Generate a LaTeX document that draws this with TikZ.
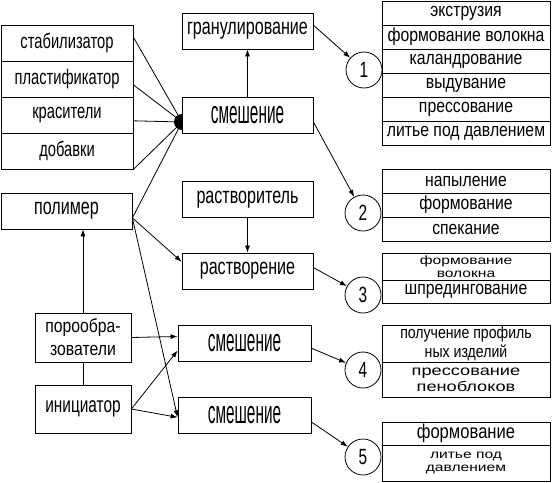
\documentclass[tikz,border=0pt]{standalone}
\usepackage{fontspec}
\setmainfont{Liberation Sans}
\newfontfamily\boxfnt[FakeStretch=0.7]{Liberation Sans}
\newfontfamily\mixfnt[FakeStretch=0.48]{Liberation Sans}
\newfontfamily\rowfnt[FakeStretch=0.83]{Liberation Sans}
\newfontfamily\widefnt[FakeStretch=1.3]{Liberation Sans}
\usetikzlibrary{arrows.meta}

\begin{document}
\begin{tikzpicture}[>={Latex[length=7pt,width=5pt]}, x=1pt, y=-1pt, line width=0.8pt,
  box/.style={draw, rectangle, inner sep=0pt, minimum width=131pt, minimum height=36pt,
    font=\boxfnt\fontsize{23}{24}\selectfont},
  mixbox/.style={box, minimum width=133pt, font=\mixfnt\fontsize{32}{32}\selectfont},
  lrow/.style={draw, rectangle, inner sep=0pt, minimum width=132pt, minimum height=36pt,
    font=\boxfnt\fontsize{21}{22}\selectfont},
  srow/.style={draw, rectangle, inner sep=0pt, minimum width=168pt, minimum height=24pt,
    align=center, font=\rowfnt\fontsize{19}{20}\selectfont},
  wrow/.style={srow, font=\widefnt\fontsize{13}{14}\selectfont},
  num/.style={circle, draw, inner sep=0pt, minimum size=36pt,
    font=\boxfnt\fontsize{22}{22}\selectfont}]

  \useasboundingbox (0,0) rectangle (553,482);

  % left stack
  \node[lrow] (stab)   at (67,43)  {стабилизатор};
  \node[lrow] (plast)  at (67,79)  {пластификатор};
  \node[lrow] (krasit) at (67,115) {красители};
  \node[lrow] (dobav)  at (67,151) {добавки};

  % middle column
  \node[box] (granul) at (247.5,31) {гранулирование};
  \node[mixbox, minimum width=131pt] (smesh) at (247.5,115) {смешение};
  \node[box] (rastv)  at (247.5,199.5) {растворитель};
  \node[box] (rastvr) at (247.5,271) {растворение};
  \node[mixbox] (smeshB) at (244.5,343.5) {смешение};
  \node[mixbox] (smeshC) at (244.5,415) {смешение};

  % lower left
  \node[box, minimum width=131pt] (polimer) at (66.5,211) {полимер};
  \node[box, minimum width=96pt, minimum height=49pt, align=center,
    font=\rowfnt\fontsize{19}{23}\selectfont] (poroobr) at (83,337.5) {порообра-\\зователи};
  \node[box, minimum width=96pt, minimum height=48pt,
    font=\boxfnt\fontsize{22}{22}\selectfont] (iniciator) at (83,409) {инициатор};

  % numbered circles
  \node[num] (num1) at (364,70)  {1};
  \node[num] (num2) at (363,213) {2};
  \node[num] (num3) at (363,295) {3};
  \node[num] (num4) at (363,370) {4};
  \node[num] (num5) at (363,457) {5};

  % right stacks
  \node[srow] (ekstr)   at (466,13)  {экструзия};
  \node[srow] (formvol) at (466,37)  {формование волокна};
  \node[srow] (kaland)  at (466,61)  {каландрование};
  \node[srow] (vydu)    at (466,85)  {выдувание};
  \node[srow] (press)   at (466,109) {прессование};
  \node[srow] (litje)   at (466,133) {литье под давлением};

  \node[srow] (napyl)  at (466,181) {напыление};
  \node[srow] (formov) at (466,205) {формование};
  \node[srow] (spek)   at (466,229) {спекание};

  \node[wrow, minimum height=27pt, font=\widefnt\fontsize{12}{13}\selectfont] (volokno) at (466,266.5) {формование\\волокна};
  \node[srow, minimum height=23pt, font=\rowfnt\fontsize{19}{19}\selectfont] (shpred) at (466,291.5) {шпредингование};

  \node[srow, minimum height=37pt, font=\rowfnt\fontsize{17}{19}\selectfont] (profil) at (466,343.5) {получение профиль\\ных изделий};
  \node[wrow, minimum height=35pt, font=\widefnt\fontsize{14}{16}\selectfont] (penobl) at (466,379.5) {прессование\\пеноблоков};

  \node[srow, minimum height=23pt, font=\rowfnt\fontsize{20}{20}\selectfont] (formovB) at (466,433.5) {формование};
  \node[wrow, minimum height=36pt, font=\widefnt\fontsize{12}{13}\selectfont] (litjeB) at (466,463) {литье под\\давлением};

  % junction dot
  \coordinate (jn) at (182,122);
  \fill (jn) ++(0,-8) arc[start angle=90, end angle=270, radius=8pt] -- cycle;

  \draw (stab.5) -- (jn);
  \draw (plast.-5) -- (jn);
  \draw (krasit.-5) -- (jn);
  \draw (dobav.south east) -- (jn);
  \draw (polimer.-6) -- (jn);

  \draw[->] (polimer.-6) -- (rastvr.172);
  \draw[->] (polimer.-6) -- (smeshC.182);
  \draw[->] (smesh.north) -- (granul.south);
  \draw[->] (rastv.south) -- (rastvr.north);

  \draw[->] (poroobr.north) -- (poroobr.north |- polimer.south);
  \draw (iniciator.north) -- (poroobr.south);
  \draw[->] (poroobr.east) -- (smeshB.174);
  \draw[->] (iniciator.east) -- (smeshB.186);
  \draw[->] (iniciator.east) -- (smeshC.182);

  % to the numbered groups
  \draw[->] (granul.5) -- (num1);
  \draw[->] (smesh.-6) -- (num2);
  \draw[->] (rastvr.3) -- (num3);
  \draw[->] (smeshB.-4) -- (num4);
  \draw[->] (smeshC.-6) -- (num5);

\end{tikzpicture}
\end{document}
